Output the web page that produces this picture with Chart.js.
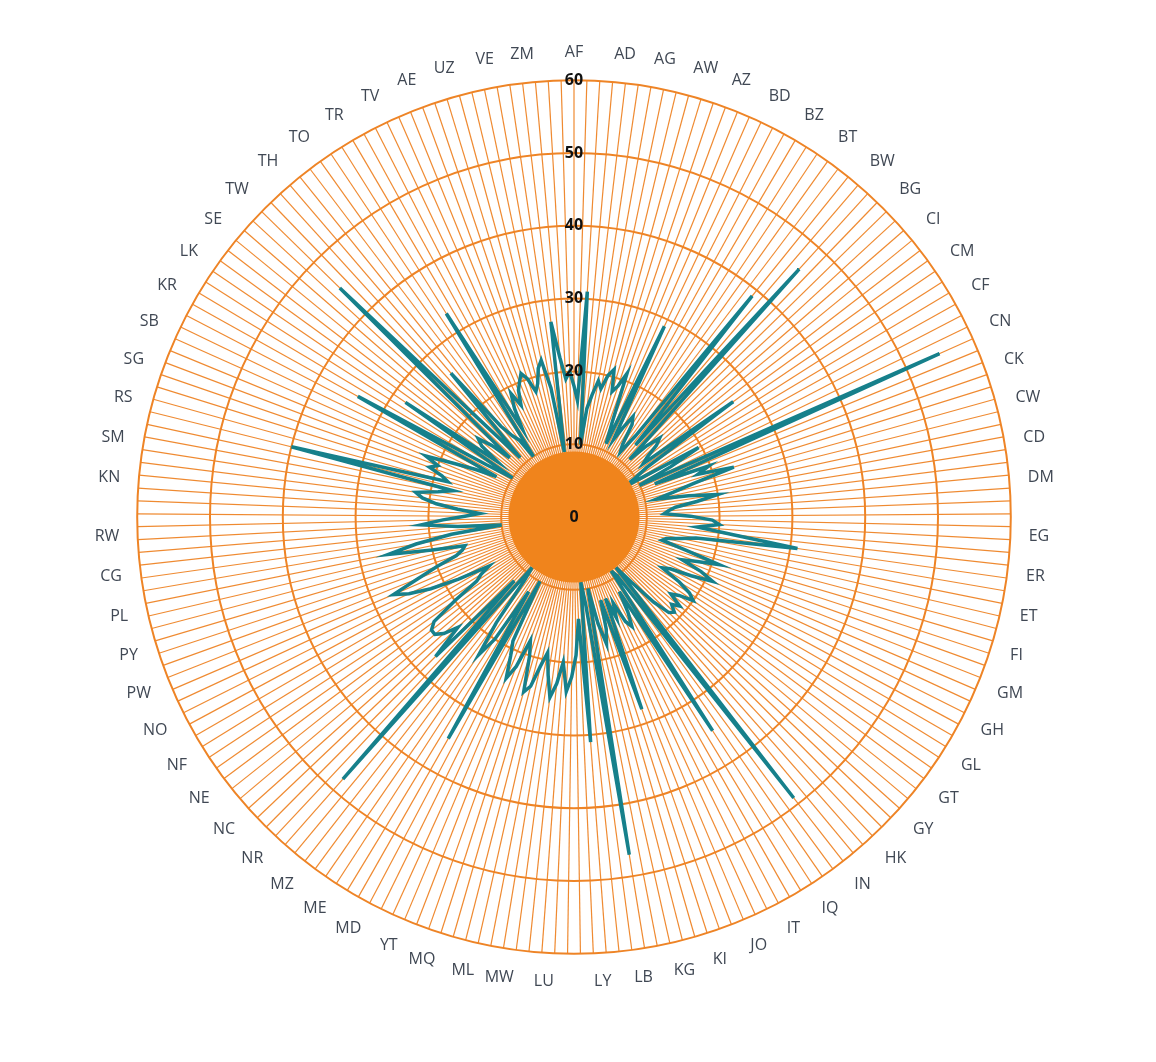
<!DOCTYPE html>
<html>
<head>
<meta charset="utf-8">
<script src="https://cdn.jsdelivr.net/npm/chart.js@4/dist/chart.umd.min.js"></script>
<style>
  html, body { margin: 0; padding: 0; background: #ffffff; }
  #wrap { width: 1156px; height: 1062px; }
</style>
</head>
<body>
<div id="wrap"><canvas id="radar" width="1156" height="1062"></canvas></div>
<script>
// only every third category carries a visible label
const shownCodes = ['AF','AD','AG','AW','AZ','BD','BZ','BT','BW','BG','CI','CM','CF','CN','CK','CW','CD','DM',
  'EG','ER','ET','FI','GM','GH','GL','GT','GY','HK','IN','IQ','IT','JO','KI','KG','LB','LY','LU','MW','ML',
  'MQ','YT','MD','ME','MZ','NR','NC','NE','NF','NO','PW','PY','PL','CG','RW','KN','SM','RS','SG','SB','KR',
  'LK','SE','TW','TH','TO','TR','TV','AE','UZ','VE','ZM'];
const labelStep = 3;

const values = [
  18, 16, 31, 10, 15, 17, 19, 18, 20, 21, 18, 19, 21,
  14, 11, 29, 12, 14, 16, 15, 12, 11, 14,
  39, 13, 46, 11, 14, 16, 15, 13, 12, 27, 12, 10,
  8, 19.6, 15, 10, 55, 12, 19.8, 18, 23, 17, 14, 11.6, 16, 20, 17, 14, 13, 12.4, 16, 19, 20, 17, 22,
  31,
  17, 15, 13, 12.5, 16, 21, 18, 16, 19, 21, 18, 15, 14, 17, 19, 20, 18, 17, 19, 18, 19, 18.5, 16, 12, 9,
  49, 10, 9, 35,
  12, 15, 17, 16, 13, 15, 12, 28, 12, 16, 18, 15, 10,
  47, 12, 9, 31,
  14, 19, 22, 24, 20, 23, 25, 22, 19, 21, 24, 25, 20, 18, 22, 24, 21, 19,
  10, 35, 12,
  20, 23, 18, 11,
  9, 48, 12,
  27, 22, 24, 25,
  25, 24, 20, 16, 15, 13.5, 18, 22, 25, 27, 23, 20, 17, 16, 15.5, 20, 26, 22, 17, 10,
  16, 21, 18, 15, 13, 16, 19, 21, 22, 19, 17, 40, 18, 19, 21, 20, 22, 18, 15, 12,
  34, 14, 10, 28,
  13, 16, 17, 15, 12,
  45, 17, 11, 26,
  16, 14, 13, 10,
  33,
  14, 17, 19, 17, 19, 20, 21, 20, 18, 19, 21, 22, 18, 9,
  27, 22, 19, 20
];

const tickMax = 60;
const tickStep = 10;
const coreValue = 9;

const categories = values.map((v, i) => (i % labelStep === 0 ? shownCodes[i / labelStep] : ''));

const orange = '#ee8426';
const teal = '#16808b';

// the dense spokes merge into a solid orange core that sits over the line
const corePlugin = {
  id: 'core',
  afterDatasetsDraw(chart) {
    const r = chart.scales.r;
    const ctx = chart.ctx;
    ctx.save();
    ctx.beginPath();
    ctx.arc(r.xCenter, r.yCenter, r.getDistanceFromCenterForValue(coreValue), 0, Math.PI * 2);
    ctx.fillStyle = '#f0841c';
    ctx.fill();
    ctx.fillStyle = '#111';
    ctx.font = 'bold 16px "Open Sans", sans-serif';
    ctx.textAlign = 'center';
    ctx.textBaseline = 'middle';
    ctx.fillText('0', r.xCenter, r.yCenter);
    ctx.restore();
  }
};

new Chart(document.getElementById('radar'), {
  type: 'radar',
  data: {
    labels: categories,
    datasets: [{
      data: values,
      borderColor: teal,
      borderWidth: 3.5,
      backgroundColor: 'transparent',
      fill: false,
      pointRadius: 0,
      tension: 0,
    }],
  },
  options: {
    responsive: false,
    animation: false,
    layout: { padding: { top: 43, bottom: 71, left: 0, right: 8 } },
    plugins: {
      legend: { display: false },
      tooltip: { enabled: false },
    },
    scales: {
      r: {
        min: 0,
        max: tickMax,
        ticks: {
          stepSize: tickStep,
          showLabelBackdrop: false,
          color: '#111',
          font: { size: 16, weight: 'bold', family: '"Open Sans", sans-serif' },
          z: 1,
        },
        grid: {
          circular: true,
          color: orange,
          lineWidth: 2,
        },
        angleLines: {
          color: 'rgba(238,132,38,0.95)',
          lineWidth: 1.2,
        },
        pointLabels: {
          color: '#404854',
          padding: 8,
          font: { size: 16, family: '"Open Sans", sans-serif' },
        },
      },
    },
  },
  plugins: [corePlugin],
});
</script>
</body>
</html>
